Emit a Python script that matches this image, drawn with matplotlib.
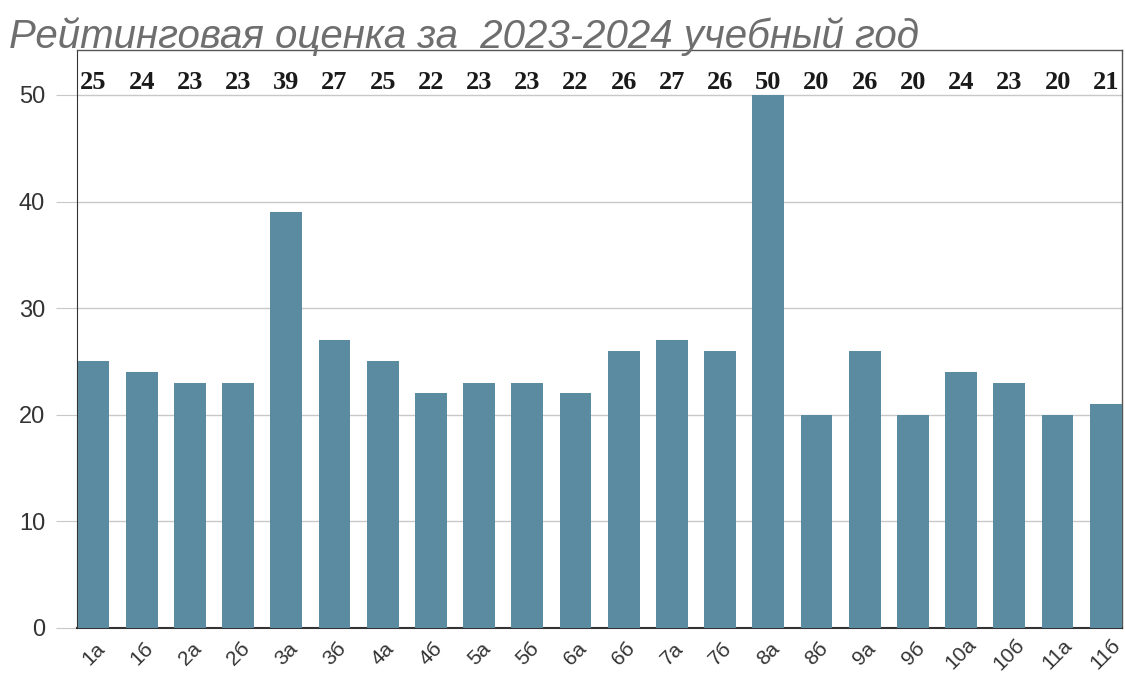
import numpy as np
import matplotlib.pyplot as plt

classes = ["1а", "1б", "2а", "2б", "3а", "3б", "4а", "4б", "5а", "5б", "6а",
           "6б", "7а", "7б", "8а", "8б", "9а", "9б", "10а", "10б", "11а", "11б"]
scores = [25, 24, 23, 23, 39, 27, 25, 22, 23, 23, 22,
          26, 27, 26, 50, 20, 26, 20, 24, 23, 20, 21]

bar_color = "#5B8BA1"

fig = plt.figure(figsize=(11.25, 6.78), dpi=100)
ax = fig.add_axes([0.0685, 0.074, 0.929, 0.852])

x = np.arange(len(classes))
ax.bar(x, scores, width=0.66, color=bar_color, zorder=3)

# values above the plot
for xi, v in zip(x, scores):
    ax.text(xi, 51.2, str(v), ha="center", va="center", fontsize=19,
            fontweight="bold", family="Liberation Serif", color="#1a1a1a")

ax.set_xlim(-0.34, len(classes) - 0.66)
ax.set_ylim(0, 54.2)
ax.set_yticks([0, 10, 20, 30, 40, 50])
ax.yaxis.grid(True, color="#c8c8c8", linewidth=1, zorder=0)
ax.tick_params(axis="y", length=15, color="#c8c8c8", labelsize=17,
               labelcolor="#333333", pad=8)
for lbl in ax.get_yticklabels():
    lbl.set_family("Liberation Sans")
ax.set_xticks(x)
ax.set_xticklabels(classes, rotation=45, ha="center", va="center",
                   rotation_mode="anchor", fontsize=15, color="#333333",
                   family="Liberation Sans")
ax.tick_params(axis="x", length=0, pad=19)

for s in ["top", "right"]:
    ax.spines[s].set_color("#555555")
    ax.spines[s].set_linewidth(1)
ax.spines["left"].set_color("#333333")
ax.spines["bottom"].set_color("#333333")
ax.spines["bottom"].set_linewidth(1.5)

fig.text(0.008, 0.946, "Рейтинговая оценка за  2023-2024 учебный год",
         fontsize=29, style="italic", color="#6e6e6e", va="center",
         family="Liberation Sans")

fig.savefig("out.png", dpi=100)
